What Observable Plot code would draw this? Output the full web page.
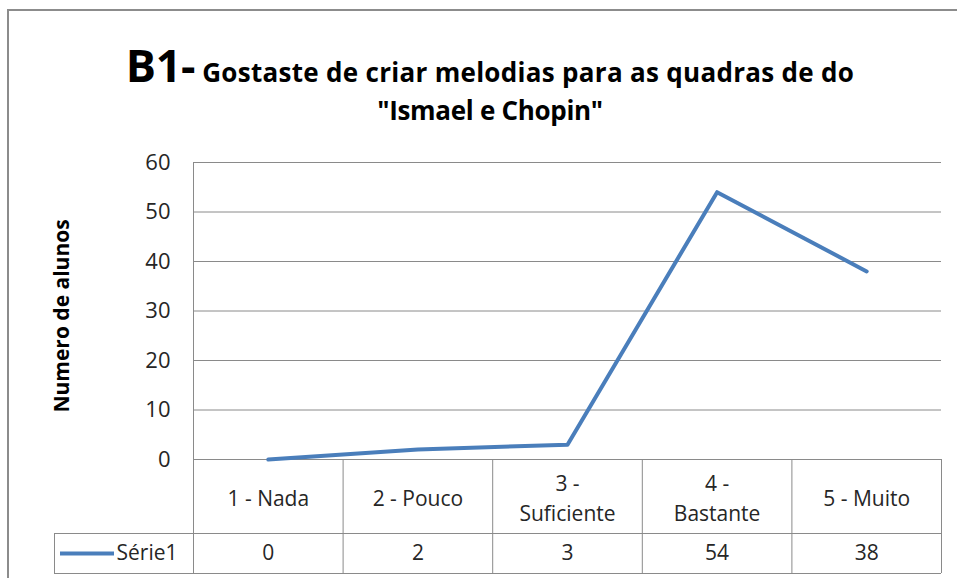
<!DOCTYPE html>
<html>
<head>
<meta charset="utf-8">
<script src="https://cdn.jsdelivr.net/npm/d3@7"></script>
<script src="https://cdn.jsdelivr.net/npm/@observablehq/plot@0.6"></script>
<style>
  html, body { margin: 0; padding: 0; background: #fff; }
  #wrap { position: relative; width: 957px; height: 578px; overflow: hidden; font-family: "Open Sans", "Liberation Sans", sans-serif; }
  #frame { position: absolute; left: 7px; top: 9px; width: 1000px; height: 1000px; border-left: 2px solid #8c8c8c; border-top: 2px solid #8c8c8c; box-sizing: border-box; }
  #title { position: absolute; left: 0; width: 980px; top: 42px; text-align: center; font-weight: bold; color: #000; line-height: 1; }
  #title .l1 { font-size: 26px; letter-spacing: 0.3px; }
  #title .big { font-size: 45px; letter-spacing: -0.4px; }
  #title .l2 { font-size: 26px; letter-spacing: -0.3px; margin-top: 10px; }
  #chart { position: absolute; left: 0; top: 0; }
</style>
</head>
<body>
<div id="wrap">
  <div id="chart"></div>
  <div id="frame"></div>
  <div id="title"><div class="l1"><span class="big">B1-</span> Gostaste de criar melodias para as quadras de do</div><div class="l2">"Ismael e Chopin"</div></div>
</div>
<script>
const categories = ["1 - Nada", "2 - Pouco", "3 -\nSuficiente", "4 -\nBastante", "5 - Muito"];
const values = [0, 2, 3, 54, 38];
const seriesName = "Série1";
const yTicks = [0, 10, 20, 30, 40, 50, 60];
const yLabel = "Numero de alunos";

const W = 957, H = 578;
const mL = 193, mR = 16, mT = 162, mB = 119;
const pxPerY = (H - mT - mB) / 60;
const pxPerX = (W - mL - mR) / 5;
const yPx = (px) => -px / pxPerY;          // pixels below the zero line -> y units
const xPx = (px) => 0.5 + (px - mL) / pxPerX; // absolute px -> x units

const row1 = yPx(74), row2 = yPx(114);
const legendLeft = xPx(54);
const data = values.map((v, i) => ({x: i + 1, y: v, cat: categories[i]}));
const gridColor = "#8a8a8a";
const lineColor = "#4a7ebb";
const textColor = "#262626";
const font = "Open Sans, Liberation Sans, sans-serif";
const tableStyle = {fontSize: 21, fill: textColor, letterSpacing: 0.5};

const plot = Plot.plot({
  width: W, height: H,
  marginLeft: mL, marginRight: mR, marginTop: mT, marginBottom: mB,
  style: {fontFamily: font, background: "transparent", overflow: "visible"},
  x: {domain: [0.5, 5.5], axis: null},
  y: {domain: [0, 60], axis: null},
  marks: [
    Plot.ruleY(yTicks, {stroke: gridColor, strokeWidth: 1}),
    Plot.ruleX([0.5], {y1: row2, y2: 60, stroke: gridColor}),
    Plot.ruleX([1.5, 2.5, 3.5, 4.5, 5.5], {y1: row2, y2: 0, stroke: gridColor}),
    Plot.ruleY([row1, row2], {x1: legendLeft, x2: 5.5, stroke: gridColor}),
    Plot.ruleX([legendLeft], {y1: row2, y2: row1, stroke: gridColor}),
    Plot.text(yTicks, {x: 0.5, y: d => d, text: d => String(d), textAnchor: "end", dx: -23, fontSize: 22, fill: textColor}),
    Plot.text([yLabel], {x: xPx(62), y: 29, text: d => d, rotate: -90, fontSize: 21, fontWeight: "bold", fill: "#000", letterSpacing: 0.8}),
    Plot.line(data, {x: "x", y: "y", stroke: lineColor, strokeWidth: 4, strokeLinejoin: "round"}),
    Plot.text(data, {x: "x", y: row1 / 2, text: "cat", lineHeight: 1.45, ...tableStyle}),
    Plot.text(data, {x: "x", y: (row1 + row2) / 2, text: d => String(d.y), ...tableStyle}),
    Plot.ruleY([(row1 + row2) / 2], {x1: xPx(60), x2: xPx(114), stroke: lineColor, strokeWidth: 4}),
    Plot.text([seriesName], {x: xPx(116), y: (row1 + row2) / 2, text: d => d, textAnchor: "start", ...tableStyle})
  ]
});
document.getElementById("chart").appendChild(plot);
</script>
</body>
</html>
